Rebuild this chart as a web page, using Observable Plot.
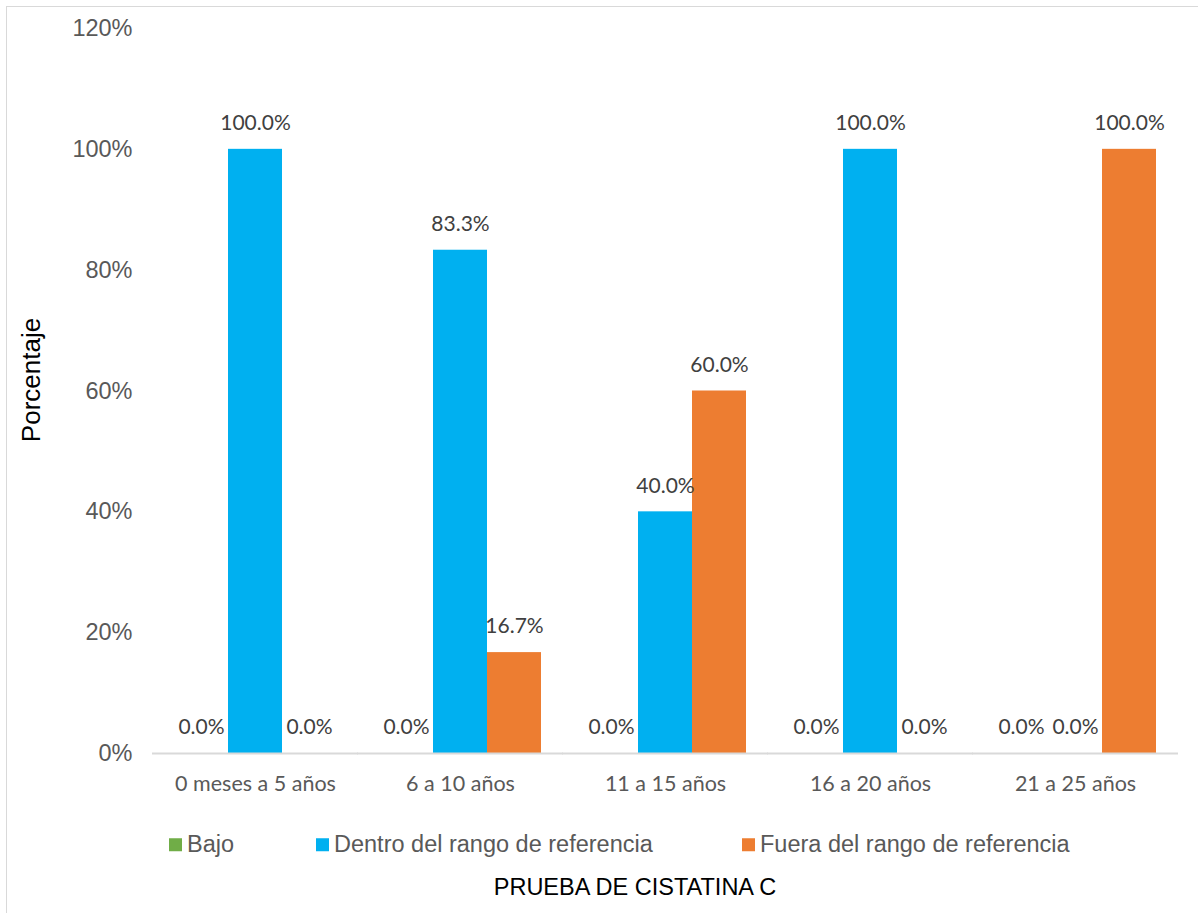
<!DOCTYPE html>
<html>
<head>
<meta charset="utf-8">
<script src="https://cdn.jsdelivr.net/npm/d3@7"></script>
<script src="https://cdn.jsdelivr.net/npm/@observablehq/plot@0.6"></script>
<style>
  html, body { margin: 0; padding: 0; background: #fff; }
  #wrap { position: relative; width: 1198px; height: 913px; overflow: hidden; background: #fff; }
  #border { position: absolute; left: 6px; top: 6px; width: 1300px; height: 1000px; border: 1px solid #d9d9d9; box-sizing: border-box; }
  #chart { position: absolute; left: 0; top: 0; }
  #ytitle { position: absolute; left: 31px; top: 380px; transform: translate(-50%, -50%) rotate(-90deg);
            font: 26px "Liberation Sans", Arial, sans-serif; color: #000; white-space: nowrap; line-height: 1; }
  .leg { position: absolute; top: 845px; transform: translateY(-50%); font: 23.5px "Liberation Sans", Arial, sans-serif;
         color: #595959; white-space: nowrap; display: flex; align-items: center; line-height: 1; }
  .leg i { display: inline-block; width: 13px; height: 13px; margin-right: 5px; }
  #xtitle { position: absolute; left: 635px; top: 888px; transform: translate(-50%, -50%);
            font: 23.5px "Liberation Sans", Arial, sans-serif; color: #000; white-space: nowrap; line-height: 1; }
</style>
</head>
<body>
<div id="wrap">
  <div id="border"></div>
  <div id="chart"></div>
  <div id="ytitle">Porcentaje</div>
  <div id="legend"></div>
  <div id="xtitle">PRUEBA DE CISTATINA C</div>
</div>
<script>
// Age groups and results of the cystatin C test (percent of patients)
const categories = ["0 meses a 5 años", "6 a 10 años", "11 a 15 años", "16 a 20 años", "21 a 25 años"];
const series = ["Bajo", "Dentro del rango de referencia", "Fuera del rango de referencia"];
const bajo = [0, 0, 0, 0, 0];
const dentro = [100, 83.3, 40, 100, 0];
const fuera = [0, 16.7, 60, 0, 100];
const colors = ["#70ad47", "#00b0f0", "#ed7d31"];
const yTicks = [0, 20, 40, 60, 80, 100, 120];

const columns = [bajo, dentro, fuera];
const data = [];
categories.forEach((cat, i) => {
  series.forEach((s, j) => data.push({cat, serie: s, value: columns[j][i]}));
});

const chart = Plot.plot({
  width: 1198,
  height: 810,
  marginLeft: 151,
  marginRight: 20,
  marginTop: 28,
  marginBottom: 57,
  style: {background: "transparent"},
  fx: {domain: categories, paddingInner: 0.2, paddingOuter: 0.1, label: null, tickSize: 0, tickPadding: 22},
  x: {domain: series, padding: 0, axis: null},
  // the y axis sits beside the first facet, so the padding reaches back across the outer gap
  y: {domain: [0, 120], ticks: yTicks, tickFormat: d => d + "%", tickSize: 0, tickPadding: 41, label: null},
  color: {domain: series, range: colors},
  marks: [
    Plot.barY(data, {fx: "cat", x: "serie", y: "value", fill: "serie"}),
    Plot.ruleY([0], {stroke: "#d9d9d9", strokeWidth: 2, insetLeft: -21, insetRight: -21}),
    Plot.text(data, {
      fx: "cat", x: "serie", y: "value",
      text: d => d.value.toFixed(1) + "%",
      dy: -26, fill: "#404040",
      fontFamily: "Lato, 'Open Sans', sans-serif", fontSize: 21
    })
  ]
});

// axis label styling
chart.querySelectorAll("[aria-label='y-axis tick label']").forEach(el => {
  el.setAttribute("font-family", "Liberation Sans, Arial, sans-serif");
  el.setAttribute("font-size", "23.5");
  el.setAttribute("fill", "#595959");
});
chart.querySelectorAll("[aria-label='fx-axis tick label']").forEach(el => {
  el.setAttribute("font-family", "Lato, 'Open Sans', sans-serif");
  el.setAttribute("font-size", "21.5");
  el.setAttribute("fill", "#595959");
});
document.getElementById("chart").appendChild(chart);

// legend
const legendX = [169, 316, 742];
const legend = document.getElementById("legend");
series.forEach((s, j) => {
  const item = document.createElement("div");
  item.className = "leg";
  item.style.left = legendX[j] + "px";
  const sw = document.createElement("i");
  sw.style.background = colors[j];
  item.appendChild(sw);
  item.appendChild(document.createTextNode(s));
  legend.appendChild(item);
});
</script>
</body>
</html>
